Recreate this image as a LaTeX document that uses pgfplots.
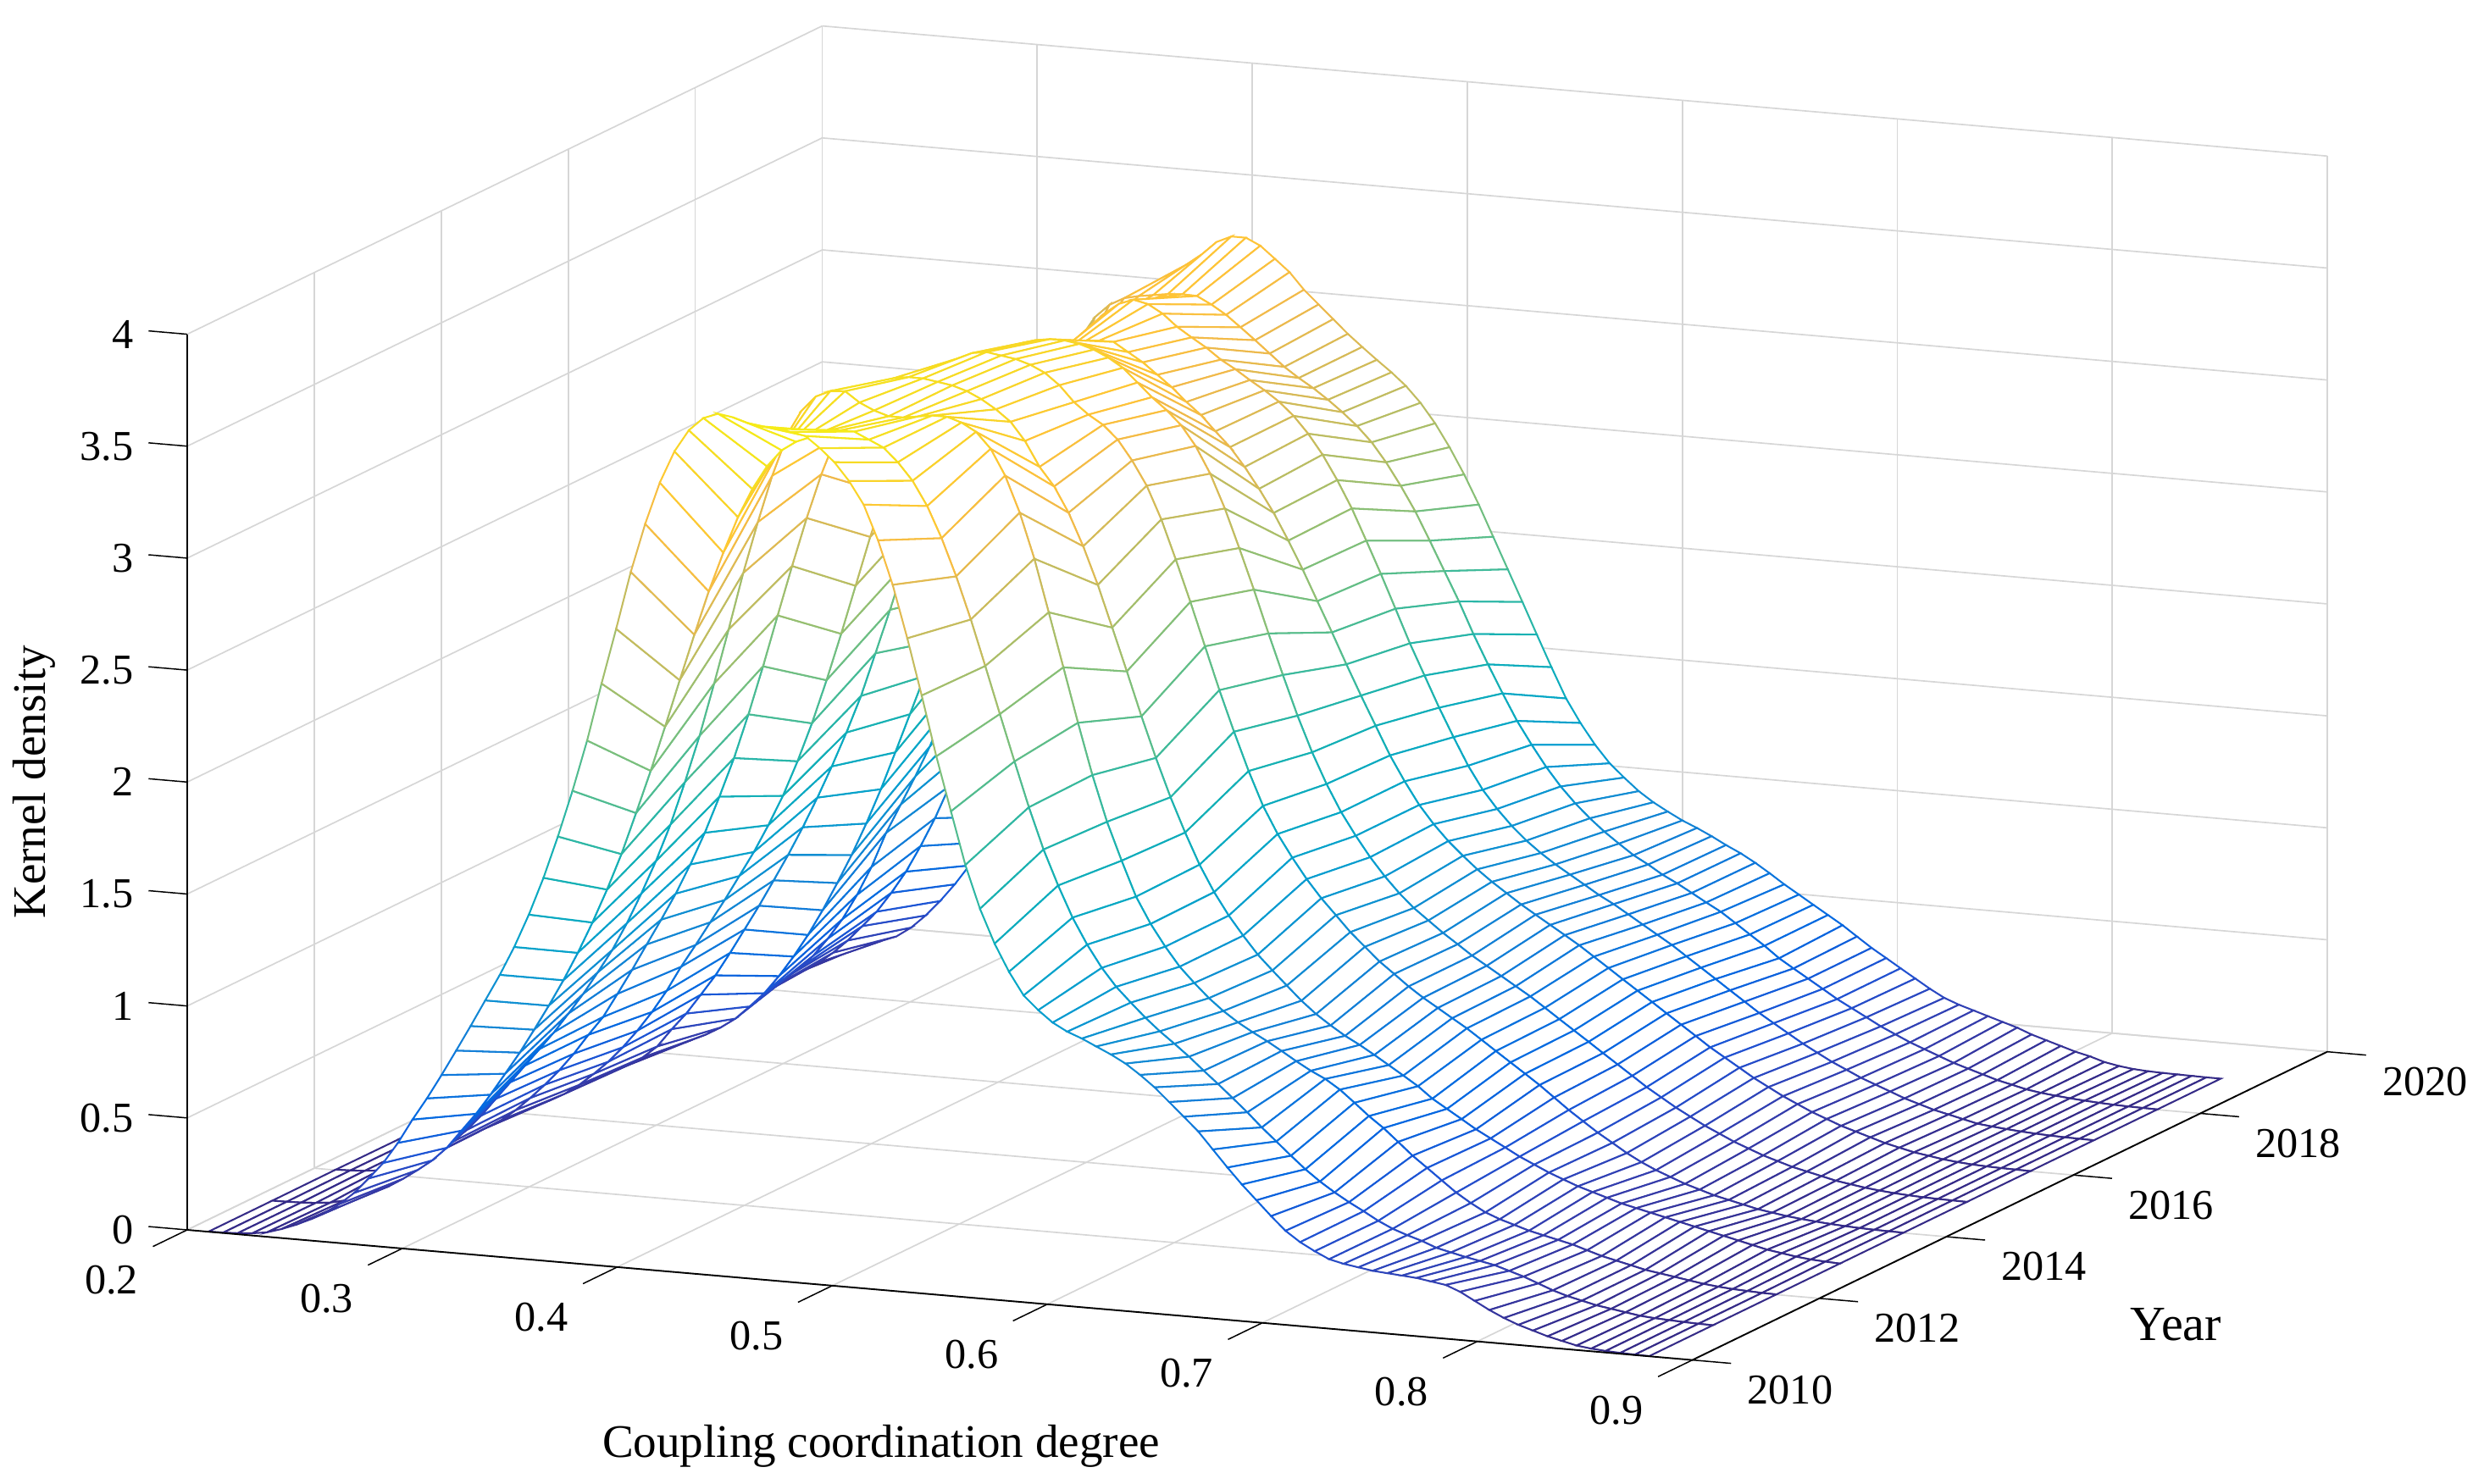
\documentclass[border=0pt]{standalone}
\usepackage{fontspec}
\setmainfont{Liberation Serif}
\usepackage{pgfplots}
\pgfplotsset{compat=1.18}
\begin{document}
\begin{tikzpicture}
\useasboundingbox (0,0) rectangle (784pt,470.5pt);
\begin{axis}[
  at={(59.35pt,39.25pt)}, anchor=south west,
  x={(681.65pt,-58.95pt)}, y={(20.13pt,9.775pt)}, z={(0pt,71pt)},
  xmin=0.2, xmax=0.9, ymin=2010, ymax=2020, zmin=0, zmax=4,
  xtick={0.2,0.3,0.4,0.5,0.6,0.7,0.8,0.9},
  ytick={2010,2012,2014,2016,2018,2020},
  ztick={0,0.5,1,1.5,2,2.5,3,3.5,4},
  xticklabels={}, yticklabels={}, zticklabels={},
  grid=major, major grid style={black!16, line width=0.45pt},
  axis line style={draw=none}, tick style={draw=none},
  colormap={parula}{rgb=(.2081,.1663,.5292) rgb=(.2081,.2386,.6771) rgb=(.1253,.3242,.8303) rgb=(.0060,.4086,.8828) rgb=(.0498,.4586,.8641) rgb=(.0779,.5040,.8384) rgb=(.0641,.5570,.8240) rgb=(.0265,.6137,.8135) rgb=(.0228,.6535,.7768) rgb=(.0590,.6838,.7254) rgb=(.1453,.7098,.6646) rgb=(.2586,.7317,.5954) rgb=(.3953,.7459,.5244) rgb=(.5300,.7491,.4661) rgb=(.6473,.7456,.4188) rgb=(.7525,.7384,.3768) rgb=(.8507,.7299,.3360) rgb=(.9450,.7261,.2886) rgb=(.9990,.7653,.2164) rgb=(.9789,.8271,.1633) rgb=(.9589,.8949,.1132) rgb=(.9763,.9831,.0538)},
  point meta min=0, point meta max=3.85,
  clip=false,
]
\addplot3[surf, shader=faceted, fill=white, faceted color=mapped color, line width=0.55pt, z buffer=none, mesh/ordering=x varies, mesh/cols=100]
table[row sep=crcr] {
x y z\\
.2100 2019 .001\\ .2168 2019 .004\\ .2235 2019 .01\\ .2303 2019 .02\\ .2371 2019 .04\\ .2438 2019 .06\\ .2506 2019 .08\\ .2574 2019 .10\\ .2641 2019 .125\\ .2709 2019 .17\\
.2777 2019 .23\\ .2844 2019 .30\\ .2912 2019 .38\\ .2980 2019 .47\\ .3048 2019 .58\\ .3115 2019 .70\\ .3183 2019 .84\\ .3251 2019 1.0\\ .3318 2019 1.17\\ .3386 2019 1.35\\
.3454 2019 1.55\\ .3521 2019 1.76\\ .3589 2019 1.98\\ .3657 2019 2.22\\ .3724 2019 2.50\\ .3792 2019 2.80\\ .3860 2019 3.05\\ .3927 2019 3.17\\ .3995 2019 3.24\\ .4063 2019 3.29\\
.4130 2019 3.35\\ .4198 2019 3.38\\ .4266 2019 3.38\\ .4333 2019 3.35\\ .4401 2019 3.297\\ .4469 2019 3.243\\ .4536 2019 3.17\\ .4604 2019 3.11\\ .4672 2019 3.05\\ .4740 2019 2.99\\
.4807 2019 2.937\\ .4875 2019 2.885\\ .4943 2019 2.835\\ .5010 2019 2.78\\ .5078 2019 2.71\\ .5146 2019 2.624\\ .5213 2019 2.523\\ .5281 2019 2.407\\ .5349 2019 2.278\\ .5416 2019 2.14\\
.5484 2019 2.0\\ .5552 2019 1.86\\ .5619 2019 1.72\\ .5687 2019 1.58\\ .5755 2019 1.446\\ .5822 2019 1.342\\ .5890 2019 1.25\\ .5958 2019 1.173\\ .6025 2019 1.115\\ .6093 2019 1.06\\
.6161 2019 1.016\\ .6228 2019 .98\\ .6296 2019 .946\\ .6364 2019 .918\\ .6432 2019 .887\\ .6499 2019 .853\\ .6567 2019 .822\\ .6635 2019 .785\\ .6702 2019 .744\\ .6770 2019 .70\\
.6838 2019 .66\\ .6905 2019 .62\\ .6973 2019 .58\\ .7041 2019 .54\\ .7108 2019 .495\\ .7176 2019 .45\\ .7244 2019 .41\\ .7311 2019 .37\\ .7379 2019 .33\\ .7447 2019 .29\\
.7514 2019 .255\\ .7582 2019 .23\\ .7650 2019 .21\\ .7717 2019 .19\\ .7785 2019 .17\\ .7853 2019 .15\\ .7920 2019 .125\\ .7988 2019 .105\\ .8056 2019 .085\\ .8124 2019 .065\\
.8191 2019 .05\\ .8259 2019 .03\\ .8327 2019 .018\\ .8394 2019 .01\\ .8462 2019 .006\\ .8530 2019 .004\\ .8597 2019 .003\\ .8665 2019 .002\\ .8733 2019 .001\\ .8800 2019 .001\\
.2100 2018 .001\\ .2168 2018 .004\\ .2235 2018 .01\\ .2303 2018 .02\\ .2371 2018 .04\\ .2438 2018 .065\\ .2506 2018 .10\\ .2574 2018 .14\\ .2641 2018 .19\\ .2709 2018 .25\\
.2777 2018 .32\\ .2844 2018 .39\\ .2912 2018 .48\\ .2980 2018 .58\\ .3048 2018 .70\\ .3115 2018 .83\\ .3183 2018 .98\\ .3251 2018 1.14\\ .3318 2018 1.32\\ .3386 2018 1.52\\
.3454 2018 1.73\\ .3521 2018 1.95\\ .3589 2018 2.19\\ .3657 2018 2.44\\ .3724 2018 2.73\\ .3792 2018 3.03\\ .3860 2018 3.13\\ .3927 2018 3.19\\ .3995 2018 3.225\\ .4063 2018 3.24\\
.4130 2018 3.25\\ .4198 2018 3.26\\ .4266 2018 3.265\\ .4333 2018 3.263\\ .4401 2018 3.23\\ .4469 2018 3.19\\ .4536 2018 3.14\\ .4604 2018 3.088\\ .4672 2018 3.034\\ .4740 2018 2.98\\
.4807 2018 2.936\\ .4875 2018 2.896\\ .4943 2018 2.85\\ .5010 2018 2.80\\ .5078 2018 2.744\\ .5146 2018 2.677\\ .5213 2018 2.593\\ .5281 2018 2.494\\ .5349 2018 2.385\\ .5416 2018 2.26\\
.5484 2018 2.13\\ .5552 2018 2.0\\ .5619 2018 1.86\\ .5687 2018 1.73\\ .5755 2018 1.606\\ .5822 2018 1.489\\ .5890 2018 1.388\\ .5958 2018 1.294\\ .6025 2018 1.213\\ .6093 2018 1.143\\
.6161 2018 1.082\\ .6228 2018 1.028\\ .6296 2018 .98\\ .6364 2018 .934\\ .6432 2018 .898\\ .6499 2018 .858\\ .6567 2018 .825\\ .6635 2018 .788\\ .6702 2018 .751\\ .6770 2018 .715\\
.6838 2018 .67\\ .6905 2018 .625\\ .6973 2018 .58\\ .7041 2018 .53\\ .7108 2018 .49\\ .7176 2018 .45\\ .7244 2018 .41\\ .7311 2018 .37\\ .7379 2018 .335\\ .7447 2018 .30\\
.7514 2018 .265\\ .7582 2018 .235\\ .7650 2018 .205\\ .7717 2018 .18\\ .7785 2018 .155\\ .7853 2018 .13\\ .7920 2018 .11\\ .7988 2018 .09\\ .8056 2018 .07\\ .8124 2018 .055\\
.8191 2018 .04\\ .8259 2018 .03\\ .8327 2018 .023\\ .8394 2018 .017\\ .8462 2018 .012\\ .8530 2018 .008\\ .8597 2018 .005\\ .8665 2018 .003\\ .8733 2018 .002\\ .8800 2018 .001\\
.2100 2017 .001\\ .2168 2017 .003\\ .2235 2017 .008\\ .2303 2017 .018\\ .2371 2017 .035\\ .2438 2017 .055\\ .2506 2017 .085\\ .2574 2017 .12\\ .2641 2017 .165\\ .2709 2017 .219\\
.2777 2017 .269\\ .2844 2017 .331\\ .2912 2017 .413\\ .2980 2017 .506\\ .3048 2017 .62\\ .3115 2017 .75\\ .3183 2017 .908\\ .3251 2017 1.04\\ .3318 2017 1.17\\ .3386 2017 1.31\\
.3454 2017 1.47\\ .3521 2017 1.64\\ .3589 2017 1.82\\ .3657 2017 2.01\\ .3724 2017 2.21\\ .3792 2017 2.41\\ .3860 2017 2.61\\ .3927 2017 2.80\\ .3995 2017 2.97\\ .4063 2017 3.11\\
.4130 2017 3.23\\ .4198 2017 3.31\\ .4266 2017 3.36\\ .4333 2017 3.384\\ .4401 2017 3.37\\ .4469 2017 3.333\\ .4536 2017 3.28\\ .4604 2017 3.238\\ .4672 2017 3.198\\ .4740 2017 3.15\\
.4807 2017 3.113\\ .4875 2017 3.07\\ .4943 2017 3.03\\ .5010 2017 2.985\\ .5078 2017 2.927\\ .5146 2017 2.853\\ .5213 2017 2.765\\ .5281 2017 2.657\\ .5349 2017 2.536\\ .5416 2017 2.398\\
.5484 2017 2.255\\ .5552 2017 2.105\\ .5619 2017 1.956\\ .5687 2017 1.818\\ .5755 2017 1.68\\ .5822 2017 1.554\\ .5890 2017 1.432\\ .5958 2017 1.33\\ .6025 2017 1.25\\ .6093 2017 1.18\\
.6161 2017 1.12\\ .6228 2017 1.07\\ .6296 2017 1.025\\ .6364 2017 .985\\ .6432 2017 .945\\ .6499 2017 .905\\ .6567 2017 .87\\ .6635 2017 .83\\ .6702 2017 .79\\ .6770 2017 .75\\
.6838 2017 .71\\ .6905 2017 .665\\ .6973 2017 .62\\ .7041 2017 .575\\ .7108 2017 .53\\ .7176 2017 .485\\ .7244 2017 .44\\ .7311 2017 .40\\ .7379 2017 .36\\ .7447 2017 .32\\
.7514 2017 .285\\ .7582 2017 .25\\ .7650 2017 .22\\ .7717 2017 .19\\ .7785 2017 .165\\ .7853 2017 .14\\ .7920 2017 .115\\ .7988 2017 .095\\ .8056 2017 .075\\ .8124 2017 .06\\
.8191 2017 .045\\ .8259 2017 .03\\ .8327 2017 .023\\ .8394 2017 .017\\ .8462 2017 .012\\ .8530 2017 .008\\ .8597 2017 .005\\ .8665 2017 .003\\ .8733 2017 .002\\ .8800 2017 .001\\
.2100 2016 .001\\ .2168 2016 .002\\ .2235 2016 .005\\ .2303 2016 .01\\ .2371 2016 .02\\ .2438 2016 .032\\ .2506 2016 .05\\ .2574 2016 .07\\ .2641 2016 .10\\ .2709 2016 .137\\
.2777 2016 .182\\ .2844 2016 .242\\ .2912 2016 .307\\ .2980 2016 .389\\ .3048 2016 .482\\ .3115 2016 .584\\ .3183 2016 .70\\ .3251 2016 .827\\ .3318 2016 .958\\ .3386 2016 1.104\\
.3454 2016 1.263\\ .3521 2016 1.433\\ .3589 2016 1.609\\ .3657 2016 1.785\\ .3724 2016 1.95\\ .3792 2016 2.16\\ .3860 2016 2.37\\ .3927 2016 2.58\\ .3995 2016 2.78\\ .4063 2016 2.96\\
.4130 2016 3.10\\ .4198 2016 3.20\\ .4266 2016 3.27\\ .4333 2016 3.31\\ .4401 2016 3.34\\ .4469 2016 3.35\\ .4536 2016 3.35\\ .4604 2016 3.31\\ .4672 2016 3.27\\ .4740 2016 3.22\\
.4807 2016 3.17\\ .4875 2016 3.11\\ .4943 2016 3.057\\ .5010 2016 2.99\\ .5078 2016 2.925\\ .5146 2016 2.842\\ .5213 2016 2.75\\ .5281 2016 2.648\\ .5349 2016 2.53\\ .5416 2016 2.406\\
.5484 2016 2.271\\ .5552 2016 2.137\\ .5619 2016 2.0\\ .5687 2016 1.866\\ .5755 2016 1.737\\ .5822 2016 1.61\\ .5890 2016 1.50\\ .5958 2016 1.40\\ .6025 2016 1.32\\ .6093 2016 1.25\\
.6161 2016 1.19\\ .6228 2016 1.135\\ .6296 2016 1.085\\ .6364 2016 1.04\\ .6432 2016 .995\\ .6499 2016 .955\\ .6567 2016 .915\\ .6635 2016 .875\\ .6702 2016 .835\\ .6770 2016 .79\\
.6838 2016 .745\\ .6905 2016 .70\\ .6973 2016 .655\\ .7041 2016 .61\\ .7108 2016 .565\\ .7176 2016 .52\\ .7244 2016 .475\\ .7311 2016 .43\\ .7379 2016 .39\\ .7447 2016 .35\\
.7514 2016 .31\\ .7582 2016 .275\\ .7650 2016 .24\\ .7717 2016 .21\\ .7785 2016 .18\\ .7853 2016 .155\\ .7920 2016 .13\\ .7988 2016 .11\\ .8056 2016 .09\\ .8124 2016 .07\\
.8191 2016 .055\\ .8259 2016 .04\\ .8327 2016 .03\\ .8394 2016 .02\\ .8462 2016 .013\\ .8530 2016 .008\\ .8597 2016 .005\\ .8665 2016 .003\\ .8733 2016 .002\\ .8800 2016 .001\\
.2100 2015 .001\\ .2168 2015 .003\\ .2235 2015 .006\\ .2303 2015 .012\\ .2371 2015 .022\\ .2438 2015 .04\\ .2506 2015 .065\\ .2574 2015 .095\\ .2641 2015 .135\\ .2709 2015 .19\\
.2777 2015 .273\\ .2844 2015 .348\\ .2912 2015 .438\\ .2980 2015 .53\\ .3048 2015 .636\\ .3115 2015 .746\\ .3183 2015 .858\\ .3251 2015 .977\\ .3318 2015 1.096\\ .3386 2015 1.225\\
.3454 2015 1.363\\ .3521 2015 1.508\\ .3589 2015 1.665\\ .3657 2015 1.834\\ .3724 2015 2.03\\ .3792 2015 2.23\\ .3860 2015 2.44\\ .3927 2015 2.66\\ .3995 2015 2.87\\ .4063 2015 3.05\\
.4130 2015 3.19\\ .4198 2015 3.30\\ .4266 2015 3.38\\ .4333 2015 3.43\\ .4401 2015 3.47\\ .4469 2015 3.49\\ .4536 2015 3.50\\ .4604 2015 3.50\\ .4672 2015 3.49\\ .4740 2015 3.47\\
.4807 2015 3.44\\ .4875 2015 3.40\\ .4943 2015 3.34\\ .5010 2015 3.28\\ .5078 2015 3.228\\ .5146 2015 3.166\\ .5213 2015 3.079\\ .5281 2015 2.961\\ .5349 2015 2.811\\ .5416 2015 2.64\\
.5484 2015 2.46\\ .5552 2015 2.27\\ .5619 2015 2.09\\ .5687 2015 1.914\\ .5755 2015 1.756\\ .5822 2015 1.62\\ .5890 2015 1.50\\ .5958 2015 1.40\\ .6025 2015 1.31\\ .6093 2015 1.23\\
.6161 2015 1.16\\ .6228 2015 1.10\\ .6296 2015 1.05\\ .6364 2015 1.00\\ .6432 2015 .955\\ .6499 2015 .91\\ .6567 2015 .87\\ .6635 2015 .83\\ .6702 2015 .79\\ .6770 2015 .75\\
.6838 2015 .705\\ .6905 2015 .66\\ .6973 2015 .615\\ .7041 2015 .57\\ .7108 2015 .525\\ .7176 2015 .48\\ .7244 2015 .435\\ .7311 2015 .39\\ .7379 2015 .35\\ .7447 2015 .31\\
.7514 2015 .275\\ .7582 2015 .24\\ .7650 2015 .21\\ .7717 2015 .18\\ .7785 2015 .155\\ .7853 2015 .13\\ .7920 2015 .11\\ .7988 2015 .09\\ .8056 2015 .075\\ .8124 2015 .06\\
.8191 2015 .045\\ .8259 2015 .035\\ .8327 2015 .025\\ .8394 2015 .018\\ .8462 2015 .012\\ .8530 2015 .008\\ .8597 2015 .005\\ .8665 2015 .003\\ .8733 2015 .002\\ .8800 2015 .001\\
.2100 2014 .001\\ .2168 2014 .002\\ .2235 2014 .006\\ .2303 2014 .012\\ .2371 2014 .025\\ .2438 2014 .045\\ .2506 2014 .07\\ .2574 2014 .105\\ .2641 2014 .15\\ .2709 2014 .205\\
.2777 2014 .265\\ .2844 2014 .335\\ .2912 2014 .415\\ .2980 2014 .504\\ .3048 2014 .604\\ .3115 2014 .717\\ .3183 2014 .82\\ .3251 2014 .927\\ .3318 2014 1.032\\ .3386 2014 1.145\\
.3454 2014 1.258\\ .3521 2014 1.383\\ .3589 2014 1.52\\ .3657 2014 1.68\\ .3724 2014 1.855\\ .3792 2014 2.053\\ .3860 2014 2.266\\ .3927 2014 2.486\\ .3995 2014 2.71\\ .4063 2014 2.91\\
.4130 2014 3.09\\ .4198 2014 3.25\\ .4266 2014 3.38\\ .4333 2014 3.47\\ .4401 2014 3.54\\ .4469 2014 3.57\\ .4536 2014 3.58\\ .4604 2014 3.57\\ .4672 2014 3.56\\ .4740 2014 3.54\\
.4807 2014 3.51\\ .4875 2014 3.46\\ .4943 2014 3.39\\ .5010 2014 3.34\\ .5078 2014 3.30\\ .5146 2014 3.24\\ .5213 2014 3.152\\ .5281 2014 3.045\\ .5349 2014 2.90\\ .5416 2014 2.727\\
.5484 2014 2.543\\ .5552 2014 2.35\\ .5619 2014 2.16\\ .5687 2014 1.98\\ .5755 2014 1.81\\ .5822 2014 1.66\\ .5890 2014 1.54\\ .5958 2014 1.44\\ .6025 2014 1.35\\ .6093 2014 1.27\\
.6161 2014 1.20\\ .6228 2014 1.13\\ .6296 2014 1.07\\ .6364 2014 1.01\\ .6432 2014 .96\\ .6499 2014 .91\\ .6567 2014 .865\\ .6635 2014 .825\\ .6702 2014 .785\\ .6770 2014 .745\\
.6838 2014 .70\\ .6905 2014 .655\\ .6973 2014 .61\\ .7041 2014 .565\\ .7108 2014 .52\\ .7176 2014 .47\\ .7244 2014 .42\\ .7311 2014 .375\\ .7379 2014 .33\\ .7447 2014 .29\\
.7514 2014 .25\\ .7582 2014 .215\\ .7650 2014 .185\\ .7717 2014 .16\\ .7785 2014 .135\\ .7853 2014 .115\\ .7920 2014 .095\\ .7988 2014 .08\\ .8056 2014 .065\\ .8124 2014 .05\\
.8191 2014 .04\\ .8259 2014 .03\\ .8327 2014 .023\\ .8394 2014 .017\\ .8462 2014 .012\\ .8530 2014 .008\\ .8597 2014 .005\\ .8665 2014 .003\\ .8733 2014 .002\\ .8800 2014 .001\\
.2100 2013 .001\\ .2168 2013 .003\\ .2235 2013 .007\\ .2303 2013 .015\\ .2371 2013 .03\\ .2438 2013 .055\\ .2506 2013 .085\\ .2574 2013 .125\\ .2641 2013 .175\\ .2709 2013 .235\\
.2777 2013 .30\\ .2844 2013 .37\\ .2912 2013 .45\\ .2980 2013 .54\\ .3048 2013 .625\\ .3115 2013 .734\\ .3183 2013 .847\\ .3251 2013 .966\\ .3318 2013 1.082\\ .3386 2013 1.204\\
.3454 2013 1.34\\ .3521 2013 1.487\\ .3589 2013 1.654\\ .3657 2013 1.832\\ .3724 2013 2.033\\ .3792 2013 2.253\\ .3860 2013 2.486\\ .3927 2013 2.712\\ .3995 2013 2.932\\ .4063 2013 3.133\\
.4130 2013 3.30\\ .4198 2013 3.42\\ .4266 2013 3.50\\ .4333 2013 3.56\\ .4401 2013 3.59\\ .4469 2013 3.60\\ .4536 2013 3.60\\ .4604 2013 3.59\\ .4672 2013 3.58\\ .4740 2013 3.56\\
.4807 2013 3.53\\ .4875 2013 3.49\\ .4943 2013 3.44\\ .5010 2013 3.36\\ .5078 2013 3.25\\ .5146 2013 3.168\\ .5213 2013 3.056\\ .5281 2013 2.912\\ .5349 2013 2.745\\ .5416 2013 2.56\\
.5484 2013 2.37\\ .5552 2013 2.175\\ .5619 2013 1.995\\ .5687 2013 1.825\\ .5755 2013 1.673\\ .5822 2013 1.535\\ .5890 2013 1.418\\ .5958 2013 1.319\\ .6025 2013 1.235\\ .6093 2013 1.156\\
.6161 2013 1.091\\ .6228 2013 1.029\\ .6296 2013 .967\\ .6364 2013 .913\\ .6432 2013 .868\\ .6499 2013 .827\\ .6567 2013 .792\\ .6635 2013 .753\\ .6702 2013 .713\\ .6770 2013 .672\\
.6838 2013 .63\\ .6905 2013 .58\\ .6973 2013 .54\\ .7041 2013 .50\\ .7108 2013 .46\\ .7176 2013 .425\\ .7244 2013 .39\\ .7311 2013 .355\\ .7379 2013 .325\\ .7447 2013 .295\\
.7514 2013 .27\\ .7582 2013 .245\\ .7650 2013 .225\\ .7717 2013 .205\\ .7785 2013 .185\\ .7853 2013 .17\\ .7920 2013 .155\\ .7988 2013 .14\\ .8056 2013 .125\\ .8124 2013 .11\\
.8191 2013 .095\\ .8259 2013 .08\\ .8327 2013 .065\\ .8394 2013 .05\\ .8462 2013 .035\\ .8530 2013 .025\\ .8597 2013 .015\\ .8665 2013 .008\\ .8733 2013 .004\\ .8800 2013 .001\\
.2100 2012 .002\\ .2168 2012 .004\\ .2235 2012 .008\\ .2303 2012 .015\\ .2371 2012 .03\\ .2438 2012 .05\\ .2506 2012 .08\\ .2574 2012 .12\\ .2641 2012 .17\\ .2709 2012 .23\\
.2777 2012 .30\\ .2844 2012 .38\\ .2912 2012 .46\\ .2980 2012 .54\\ .3048 2012 .62\\ .3115 2012 .70\\ .3183 2012 .79\\ .3251 2012 .883\\ .3318 2012 .984\\ .3386 2012 1.09\\
.3454 2012 1.215\\ .3521 2012 1.353\\ .3589 2012 1.504\\ .3657 2012 1.673\\ .3724 2012 1.868\\ .3792 2012 2.08\\ .3860 2012 2.32\\ .3927 2012 2.566\\ .3995 2012 2.824\\ .4063 2012 3.057\\
.4130 2012 3.27\\ .4198 2012 3.45\\ .4266 2012 3.57\\ .4333 2012 3.64\\ .4401 2012 3.67\\ .4469 2012 3.675\\ .4536 2012 3.63\\ .4604 2012 3.60\\ .4672 2012 3.58\\ .4740 2012 3.58\\
.4807 2012 3.59\\ .4875 2012 3.60\\ .4943 2012 3.60\\ .5010 2012 3.58\\ .5078 2012 3.544\\ .5146 2012 3.474\\ .5213 2012 3.36\\ .5281 2012 3.20\\ .5349 2012 3.0\\ .5416 2012 2.766\\
.5484 2012 2.526\\ .5552 2012 2.284\\ .5619 2012 2.056\\ .5687 2012 1.853\\ .5755 2012 1.685\\ .5822 2012 1.53\\ .5890 2012 1.414\\ .5958 2012 1.318\\ .6025 2012 1.234\\ .6093 2012 1.167\\
.6161 2012 1.105\\ .6228 2012 1.053\\ .6296 2012 1.008\\ .6364 2012 .97\\ .6432 2012 .935\\ .6499 2012 .897\\ .6567 2012 .857\\ .6635 2012 .82\\ .6702 2012 .789\\ .6770 2012 .747\\
.6838 2012 .694\\ .6905 2012 .64\\ .6973 2012 .592\\ .7041 2012 .536\\ .7108 2012 .48\\ .7176 2012 .431\\ .7244 2012 .381\\ .7311 2012 .332\\ .7379 2012 .291\\ .7447 2012 .255\\
.7514 2012 .23\\ .7582 2012 .21\\ .7650 2012 .19\\ .7717 2012 .175\\ .7785 2012 .16\\ .7853 2012 .145\\ .7920 2012 .125\\ .7988 2012 .105\\ .8056 2012 .09\\ .8124 2012 .075\\
.8191 2012 .06\\ .8259 2012 .05\\ .8327 2012 .04\\ .8394 2012 .03\\ .8462 2012 .02\\ .8530 2012 .013\\ .8597 2012 .008\\ .8665 2012 .005\\ .8733 2012 .002\\ .8800 2012 .001\\
.2100 2011 .001\\ .2168 2011 .002\\ .2235 2011 .004\\ .2303 2011 .008\\ .2371 2011 .015\\ .2438 2011 .03\\ .2506 2011 .05\\ .2574 2011 .08\\ .2641 2011 .11\\ .2709 2011 .15\\
.2777 2011 .195\\ .2844 2011 .243\\ .2912 2011 .305\\ .2980 2011 .387\\ .3048 2011 .468\\ .3115 2011 .559\\ .3183 2011 .658\\ .3251 2011 .758\\ .3318 2011 .866\\ .3386 2011 .979\\
.3454 2011 1.098\\ .3521 2011 1.226\\ .3589 2011 1.367\\ .3657 2011 1.52\\ .3724 2011 1.684\\ .3792 2011 1.873\\ .3860 2011 2.067\\ .3927 2011 2.27\\ .3995 2011 2.483\\ .4063 2011 2.692\\
.4130 2011 2.891\\ .4198 2011 3.07\\ .4266 2011 3.234\\ .4333 2011 3.365\\ .4401 2011 3.472\\ .4469 2011 3.549\\ .4536 2011 3.593\\ .4604 2011 3.62\\ .4672 2011 3.65\\ .4740 2011 3.66\\
.4807 2011 3.66\\ .4875 2011 3.63\\ .4943 2011 3.60\\ .5010 2011 3.54\\ .5078 2011 3.463\\ .5146 2011 3.356\\ .5213 2011 3.218\\ .5281 2011 3.053\\ .5349 2011 2.866\\ .5416 2011 2.664\\
.5484 2011 2.455\\ .5552 2011 2.249\\ .5619 2011 2.05\\ .5687 2011 1.867\\ .5755 2011 1.712\\ .5822 2011 1.574\\ .5890 2011 1.459\\ .5958 2011 1.361\\ .6025 2011 1.282\\ .6093 2011 1.217\\
.6161 2011 1.155\\ .6228 2011 1.10\\ .6296 2011 1.05\\ .6364 2011 .998\\ .6432 2011 .941\\ .6499 2011 .887\\ .6567 2011 .83\\ .6635 2011 .772\\ .6702 2011 .71\\ .6770 2011 .653\\
.6838 2011 .595\\ .6905 2011 .54\\ .6973 2011 .491\\ .7041 2011 .448\\ .7108 2011 .41\\ .7176 2011 .375\\ .7244 2011 .338\\ .7311 2011 .308\\ .7379 2011 .285\\ .7447 2011 .265\\
.7514 2011 .24\\ .7582 2011 .225\\ .7650 2011 .21\\ .7717 2011 .198\\ .7785 2011 .185\\ .7853 2011 .165\\ .7920 2011 .145\\ .7988 2011 .12\\ .8056 2011 .095\\ .8124 2011 .075\\
.8191 2011 .06\\ .8259 2011 .045\\ .8327 2011 .035\\ .8394 2011 .025\\ .8462 2011 .015\\ .8530 2011 .01\\ .8597 2011 .007\\ .8665 2011 .004\\ .8733 2011 .002\\ .8800 2011 .001\\
.2100 2010 .001\\ .2168 2010 .002\\ .2235 2010 .005\\ .2303 2010 .01\\ .2371 2010 .02\\ .2438 2010 .04\\ .2506 2010 .065\\ .2574 2010 .095\\ .2641 2010 .13\\ .2709 2010 .175\\
.2777 2010 .23\\ .2844 2010 .30\\ .2912 2010 .375\\ .2980 2010 .47\\ .3048 2010 .58\\ .3115 2010 .68\\ .3183 2010 .79\\ .3251 2010 .905\\ .3318 2010 1.02\\ .3386 2010 1.14\\
.3454 2010 1.26\\ .3521 2010 1.39\\ .3589 2010 1.54\\ .3657 2010 1.71\\ .3724 2010 1.90\\ .3792 2010 2.11\\ .3860 2010 2.34\\ .3927 2010 2.60\\ .3995 2010 2.85\\ .4063 2010 3.11\\
.4130 2010 3.33\\ .4198 2010 3.52\\ .4266 2010 3.665\\ .4333 2010 3.765\\ .4401 2010 3.825\\ .4469 2010 3.85\\ .4536 2010 3.84\\ .4604 2010 3.82\\ .4672 2010 3.81\\ .4740 2010 3.805\\
.4807 2010 3.797\\ .4875 2010 3.784\\ .4943 2010 3.735\\ .5010 2010 3.678\\ .5078 2010 3.60\\ .5146 2010 3.50\\ .5213 2010 3.346\\ .5281 2010 3.153\\ .5349 2010 2.92\\ .5416 2010 2.67\\
.5484 2010 2.404\\ .5552 2010 2.164\\ .5619 2010 1.93\\ .5687 2010 1.74\\ .5755 2010 1.59\\ .5822 2010 1.47\\ .5890 2010 1.37\\ .5958 2010 1.31\\ .6025 2010 1.26\\ .6093 2010 1.225\\
.6161 2010 1.20\\ .6228 2010 1.17\\ .6296 2010 1.14\\ .6364 2010 1.105\\ .6432 2010 1.06\\ .6499 2010 1.01\\ .6567 2010 .95\\ .6635 2010 .89\\ .6702 2010 .83\\ .6770 2010 .755\\
.6838 2010 .68\\ .6905 2010 .61\\ .6973 2010 .545\\ .7041 2010 .48\\ .7108 2010 .42\\ .7176 2010 .375\\ .7244 2010 .34\\ .7311 2010 .31\\ .7379 2010 .295\\ .7447 2010 .285\\
.7514 2010 .275\\ .7582 2010 .27\\ .7650 2010 .265\\ .7717 2010 .26\\ .7785 2010 .25\\ .7853 2010 .24\\ .7920 2010 .215\\ .7988 2010 .18\\ .8056 2010 .145\\ .8124 2010 .115\\
.8191 2010 .09\\ .8259 2010 .07\\ .8327 2010 .05\\ .8394 2010 .035\\ .8462 2010 .02\\ .8530 2010 .012\\ .8597 2010 .007\\ .8665 2010 .004\\ .8733 2010 .002\\ .8800 2010 .001\\
};
\draw[black, line width=0.5pt] (axis cs:0.2,2010,0) -- (axis cs:0.9,2010,0) -- (axis cs:0.9,2020,0);
\draw[black, line width=0.4pt] (axis cs:0.2,2010,0) -- (axis cs:0.2,2010,4);
\pgfplotsinvokeforeach{0.2,0.3,0.4,0.5,0.6,0.7,0.8,0.9}{
  \draw[black, line width=0.4pt] (axis cs:#1,2010,0) -- (axis cs:#1,2009.46,0);
  \node[font=\fontsize{13.5}{14}\selectfont] at ([shift={(-24pt,-16pt)}]axis cs:#1,2010,0) {#1};
}
\pgfplotsinvokeforeach{2010,2012,2014,2016,2018,2020}{
  \draw[black, line width=0.4pt] (axis cs:0.9,#1,0) -- (axis cs:0.918,#1,0);
  \node[font=\fontsize{13.5}{14}\selectfont] at ([shift={(31pt,-9.5pt)}]axis cs:0.9,#1,0) {#1};
}
\pgfplotsinvokeforeach{0,0.5,1,1.5,2,2.5,3,3.5,4}{
  \draw[black, line width=0.4pt] (axis cs:0.2,2010,#1) -- (axis cs:0.182,2010,#1);
  \node[font=\fontsize{13.5}{14}\selectfont, anchor=east] at ([shift={(-13.5pt,0pt)}]axis cs:0.2,2010,#1) {#1};
}
\node[font=\fontsize{14.8}{15}\selectfont] at ([shift={(220pt,-68.5pt)}]axis cs:0.2,2010,0) {Coupling coordination degree};
\node[font=\fontsize{15.6}{16}\selectfont] at ([shift={(630.5pt,-30pt)}]axis cs:0.2,2010,0) {Year};
\node[font=\fontsize{14.8}{15}\selectfont, rotate=90] at ([shift={(-48.5pt,142pt)}]axis cs:0.2,2010,0) {Kernel density};
\end{axis}
\end{tikzpicture}
\end{document}
